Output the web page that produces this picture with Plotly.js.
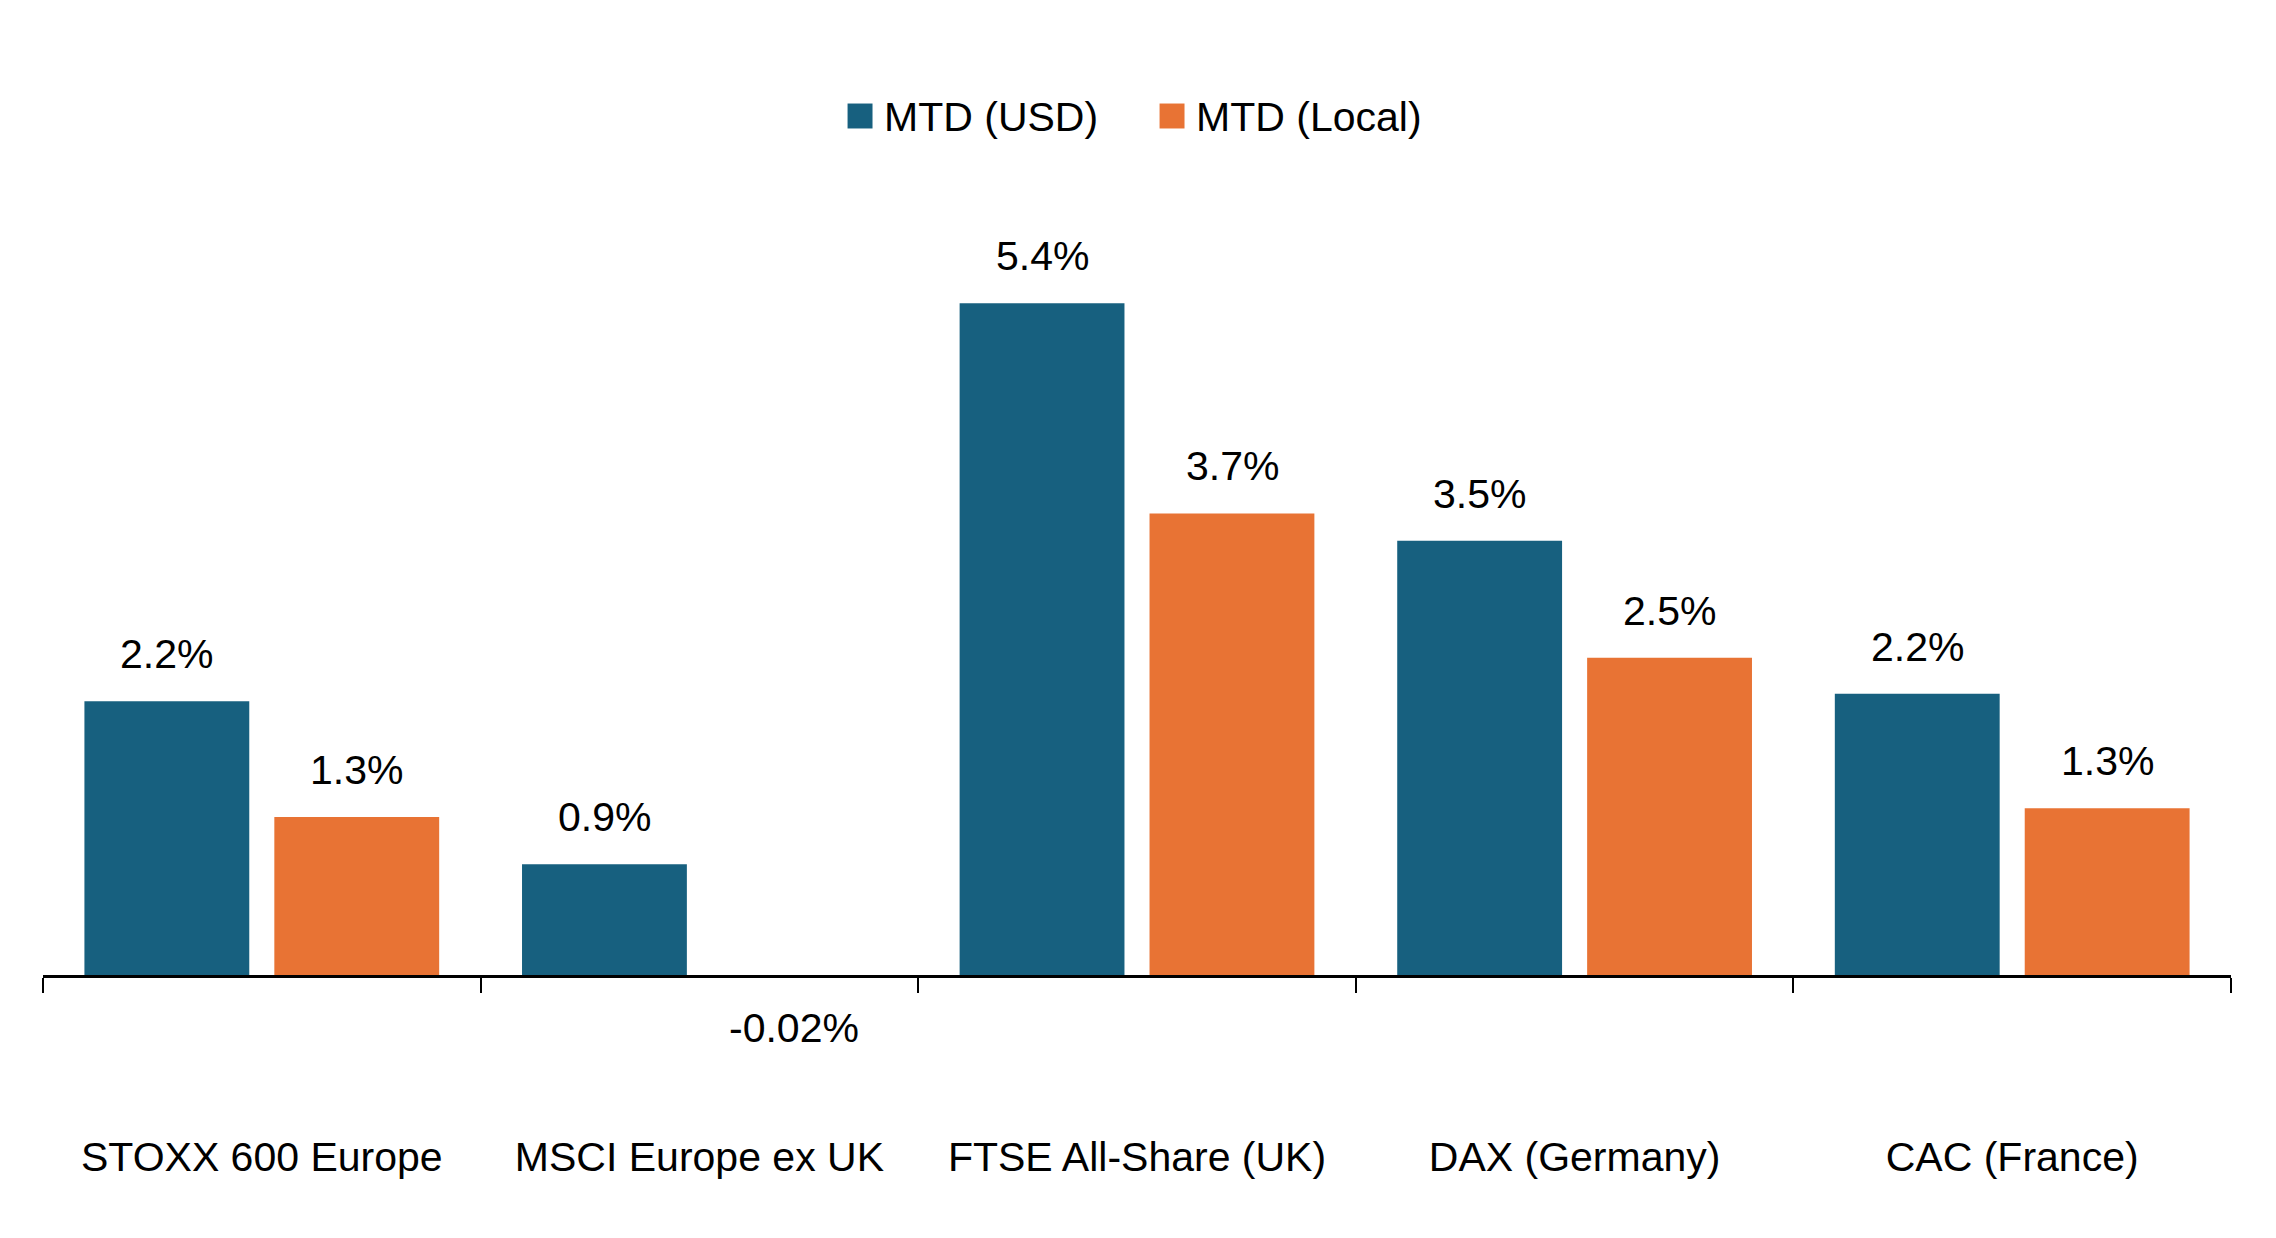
<!DOCTYPE html>
<html>
<head>
<meta charset="utf-8">
<script src="https://cdn.plot.ly/plotly-3.0.1.min.js"></script>
<style>
  html, body { margin: 0; padding: 0; background: #fff; }
  #graph { width: 2276px; height: 1238px; }
  /* bigger legend squares, closer to the text, like the original */
  .legend .scrollbox, .legend g { clip-path: none !important; }
  .legend .legendpoints path { transform: translate(16px, 1px) scale(2.08); }
</style>
</head>
<body>
<div id="graph"></div>
<script>
var categories = ['STOXX 600 Europe', 'MSCI Europe ex UK', 'FTSE All-Share (UK)', 'DAX (Germany)', 'CAC (France)'];
var usdValues = [2.2, 0.89, 5.4, 3.49, 2.26];
var localValues = [1.27, -0.02, 3.71, 2.55, 1.34];
var usdLabels = ['2.2%', '0.9%', '5.4%', '3.5%', '2.2%'];
var localLabels = ['1.3%', '-0.02%', '3.7%', '2.5%', '1.3%'];

var blue = '#17607f'
var orange = '#e87334'
var fontFam = '"Liberation Sans", Arial, sans-serif'
var fs = 41

var trace_usd = {
  x: categories,
  y: usdValues,
  type: 'bar',
  name: 'MTD (USD)',
  marker: {color: blue},
  hoverinfo: 'none'
};

var trace_local = {
  x: categories,
  y: localValues,
  type: 'bar',
  name: 'MTD (Local)',
  marker: {color: orange},
  hoverinfo: 'none'
};

// value labels above / below each bar
// (negative ones are anchored at the zero line, otherwise plotly hides them)
var annotations = [];
function addLabels(vals, labels, shift) {
  for (let i=0; i<categories.length; i++){
    var neg = vals[i] < 0
    annotations.push({
      x: categories[i],
      y: neg ? 0 : vals[i],
      text: labels[i],
      showarrow: false,
      xshift: shift,
      yshift: neg ? -53 : 47,
      yanchor: 'middle',
      font: {size: fs, color: '#000', family: fontFam}
    });
  }
}
addLabels(usdValues, usdLabels, -95);
addLabels(localValues, localLabels, 95);

var layout = {
  width: 2276,
  height: 1238,
  margin: {l: 43, r: 45, t: 150, b: 263},
  paper_bgcolor: '#fff',
  plot_bgcolor: '#fff',
  font: {family: fontFam, size: fs, color: '#000'},
  barmode: 'group',
  bargap: 0.132,
  bargroupgap: 0.132,
  showlegend: true,
  legend: {
    orientation: 'h',
    x: 0.5087,
    xanchor: 'center',
    y: 1.042,
    yanchor: 'middle',
    entrywidth: 267,
    font: {size: fs, color: '#000', family: fontFam},
    bgcolor: 'rgba(0,0,0,0)'
  },
  xaxis: {
    type: 'category',
    showline: true,
    linecolor: '#000',
    linewidth: 3,
    ticks: 'outside',
    tickson: 'boundaries',
    ticklen: 15,
    tickwidth: 2,
    tickcolor: '#000',
    ticklabelstandoff: 144,
    showgrid: false,
    zeroline: false,
    tickfont: {size: fs, color: '#000', family: fontFam},
    fixedrange: true
  },
  yaxis: {
    range: [0, 6.632],
    visible: false,
    showgrid: false,
    zeroline: false,
    fixedrange: true
  },
  annotations: annotations
};

Plotly.newPlot('graph', [trace_usd, trace_local], layout, {displayModeBar: false, staticPlot: true});
</script>
</body>
</html>
